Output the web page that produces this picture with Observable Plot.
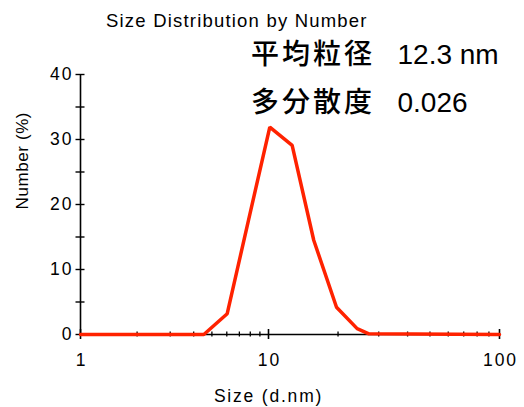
<!DOCTYPE html>
<html>
<head>
<meta charset="utf-8">
<script src="https://cdn.jsdelivr.net/npm/d3@7"></script>
<script src="https://cdn.jsdelivr.net/npm/@observablehq/plot@0.6"></script>
<style>
  html, body { margin: 0; padding: 0; background: #fff; }
</style>
</head>
<body>
<div id="chart"></div>
<script>
// ---- data ----
const sizes   = [1, 4.53, 6.03, 7.83, 10.13, 12.66, 15.7, 19.7, 24.2, 27.2, 100];
const numbers = [0, 0,    3.2,  17.6, 31.9,  29.1,  14.5, 4.2,  0.9,  0.1,  0];

const xMajorTicks = [1, 10, 100];
const xMinorTicks = [2, 3, 4, 5, 6, 7, 8, 9, 20, 30, 40, 50, 60, 70, 80, 90];
const yTicks      = [0, 5, 10, 15, 20, 25, 30, 35, 40];
const yLabelTicks = [0, 10, 20, 30, 40];

const titleText = "Size Distribution by Number";
const xLabel = "Size (d.nm)";
const yLabel = "Number (%)";
const infoLabels = ["平均粒径", "多分散度"];
const infoValues = ["12.3 nm", "0.026"];

const data = sizes.map((s, i) => ({size: s, number: numbers[i]}));

const red = "#ff2200";
const font = "'Liberation Sans', Arial, sans-serif";
const cjkFont = "'Noto Sans CJK JP', sans-serif";

const chart = Plot.plot({
  width: 524,
  height: 407,
  marginLeft: 80,
  marginRight: 25,
  marginTop: 74,
  marginBottom: 73,
  style: {fontFamily: font, background: "#fff", color: "#000"},
  x: {type: "log", domain: [1, 10, 100], range: [80, 268, 499], axis: null},
  y: {domain: [0, 40], axis: null},
  marks: [
    // axis lines
    Plot.ruleY([0], {x1: 1, x2: 100, stroke: "#000", strokeWidth: 1.6}),
    Plot.ruleX([1], {y1: 0, y2: 40, stroke: "#000", strokeWidth: 1.6}),
    // x ticks (crossing the axis)
    Plot.ruleX(xMajorTicks, {x: d => d, y1: 0, y2: 0, insetTop: -5, insetBottom: -5, stroke: "#000", strokeWidth: 1.6}),
    Plot.ruleX(xMinorTicks, {x: d => d, y1: 0, y2: 0, insetTop: -2.5, insetBottom: -2.5, stroke: "#000", strokeWidth: 1.3}),
    // y ticks (crossing the axis)
    Plot.ruleY(yTicks, {y: d => d, x1: 1, x2: 1, insetLeft: -4.5, insetRight: -4.5, stroke: "#000", strokeWidth: 1.4}),
    // tick labels
    Plot.text(yLabelTicks, {x: () => 1, y: d => d, text: d => String(d), textAnchor: "end", dx: -7, fontSize: 17.5, fill: "#000"}),
    Plot.text(xMajorTicks, {x: d => d, y: () => 0, text: d => String(d), dy: 26, dx: 1, fontSize: 17.5, fill: "#000"}),
    // axis titles
    Plot.text([xLabel], {x: () => 10, y: () => 0, text: d => d, dy: 62, fontSize: 17.5, fill: "#000"}),
    Plot.text([yLabel], {frameAnchor: "left", text: d => d, rotate: -90, dx: -58, dy: 5, fontSize: 17, fill: "#000"}),
    // chart title
    Plot.text([titleText], {frameAnchor: "top-left", lineAnchor: "middle", text: d => d, textAnchor: "start", dx: 25.5, dy: -53.5, fontSize: 18.5, fill: "#000"}),
    // Japanese annotations (two lines)
    Plot.text([infoLabels[0]], {frameAnchor: "top-left", lineAnchor: "middle", text: d => d, textAnchor: "start", dx: 170.5, dy: -19, fontSize: 28, fontWeight: 500, fill: "#000", fontFamily: cjkFont}),
    Plot.text([infoLabels[1]], {frameAnchor: "top-left", lineAnchor: "middle", text: d => d, textAnchor: "start", dx: 170.5, dy: 28.5, fontSize: 28, fontWeight: 500, fill: "#000", fontFamily: cjkFont}),
    Plot.text([infoValues[0]], {frameAnchor: "top-left", lineAnchor: "middle", text: d => d, textAnchor: "start", dx: 317, dy: -19, fontSize: 28, fill: "#000"}),
    Plot.text([infoValues[1]], {frameAnchor: "top-left", lineAnchor: "middle", text: d => d, textAnchor: "start", dx: 317, dy: 28.5, fontSize: 28, fill: "#000"}),
    // distribution line
    Plot.line(data, {x: "size", y: "number", stroke: red, strokeWidth: 3.5, strokeLinejoin: "miter"})
  ]
});

// letter spacing to match the reference's wide text
const spacing = new Map([
  [titleText, 1.2], [xLabel, 1.8], [yLabel, 0.6],
  [infoLabels[0], 3], [infoLabels[1], 3],
  ...yLabelTicks.map(v => [String(v), 2]),
  ...xMajorTicks.map(v => [String(v), 2])
]);
d3.select(chart).selectAll("text").each(function() {
  const s = spacing.get(this.textContent);
  if (s != null) this.style.letterSpacing = s + "px";
});

document.getElementById("chart").appendChild(chart);
</script>
</body>
</html>
